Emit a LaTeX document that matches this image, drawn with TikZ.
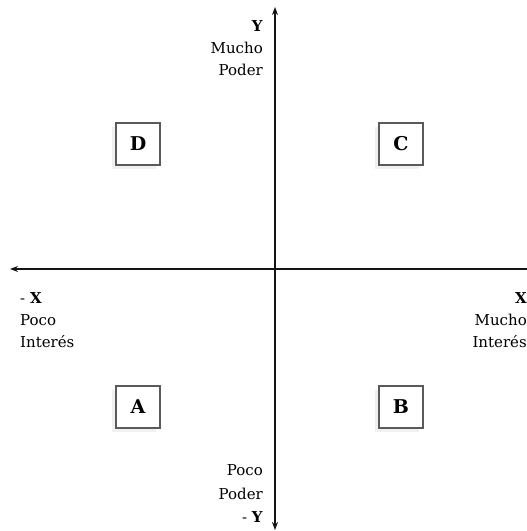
\documentclass[tikz,border=0pt]{standalone}
\usepackage{fontspec}
\setmainfont{DejaVu Serif}
\usetikzlibrary{arrows.meta,positioning,calc,shadows}
\definecolor{boxgray}{RGB}{90,90,90}
\definecolor{axisblack}{RGB}{20,20,20}

\tikzset{
    quadbox/.style={draw=boxgray, line width=1.5pt, fill=white,
        minimum width=44pt, minimum height=42pt, inner sep=0pt,
        font=\fontsize{19}{22}\selectfont\bfseries,
        drop shadow={opacity=0.12, shadow xshift=-4pt, shadow yshift=-4pt}},
    axislabel/.style={inner sep=0pt, font=\fontsize{15}{22}\selectfont},
    axisline/.style={axisblack, line width=1.4pt}
}

\begin{document}
\begin{tikzpicture}[x=1pt, y=-1pt, >={Stealth[length=8pt, width=6pt]}]
    \useasboundingbox (0,0) rectangle (527,531);

    % Axis end points
    \coordinate (xneg) at (10,269);
    \coordinate (xpos) at (527,269);
    \coordinate (ypos) at (275,7);
    \coordinate (yneg) at (275,530);

    % Axes
    \draw[axisline, ->] (xpos) -- (xneg);
    \draw[axisline, <->] (yneg) -- (ypos);

    % Axis labels
    \node[axislabel, anchor=base east] (ylab) at (263,31) {\textbf{Y}};
    \node[axislabel, anchor=base east] (ymucho) at (263,53) {Mucho};
    \node[axislabel, anchor=base east] (ypoder) at (263,75) {Poder};

    \node[axislabel, anchor=base east] (ypoco) at (263,475) {Poco};
    \node[axislabel, anchor=base east] (ypoder2) at (263,499) {Poder};
    \node[axislabel, anchor=base east] (yneglab) at (263,522) {- \textbf{Y}};

    \node[axislabel, anchor=base west] (xneglab) at (20,303) {- \textbf{X}};
    \node[axislabel, anchor=base west] (xpoco) at (20,325) {Poco};
    \node[axislabel, anchor=base west] (xinteres) at (20,347) {Interés};

    \node[axislabel, anchor=base east] (xlab) at (527,303) {\textbf{X}};
    \node[axislabel, anchor=base east] (xmucho) at (527,325) {Mucho};
    \node[axislabel, anchor=base east] (xinteres2) at (527,347) {Interés};

    % Quadrant boxes
    \node[quadbox] (boxD) at (138,144) {D};
    \node[quadbox] (boxC) at (401,144) {C};
    \node[quadbox] (boxA) at (138,407) {A};
    \node[quadbox] (boxB) at (401,407) {B};

\end{tikzpicture}
\end{document}
